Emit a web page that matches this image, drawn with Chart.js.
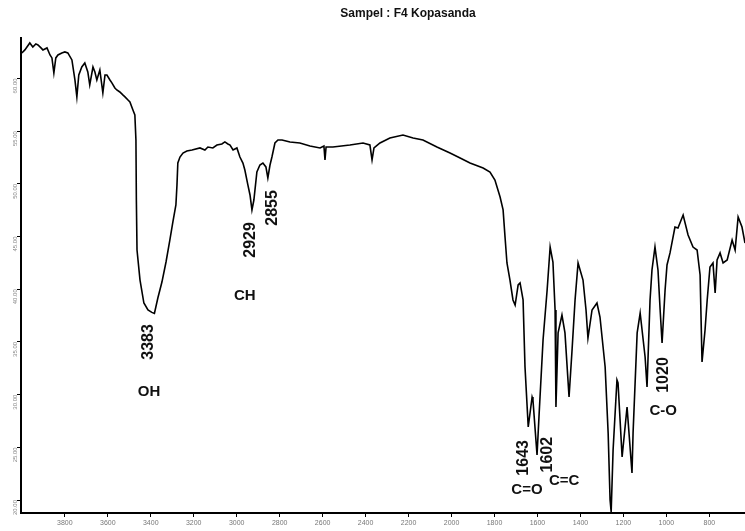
<!DOCTYPE html>
<html><head><meta charset="utf-8">
<script src="https://cdn.jsdelivr.net/npm/chart.js@4/dist/chart.umd.min.js"></script>
<style>html,body{margin:0;padding:0;background:#fff}#wrap{width:745px;height:531px}</style>
</head><body><div id="wrap"><canvas id="c" width="745" height="531"></canvas></div>
<script>
const titleText = 'Sampel : F4 Kopasanda';

const wavenumbers = [4000,3986,3963,3949,3935,3925,3911,3902,3883,3869,
3860,3851,3842,3832,3814,3800,3786,3767,3753,3744,
3735,3721,3707,3693,3684,3669,3660,3651,3637,3623,
3613,3604,3590,3581,3567,3558,3544,3530,3520,3506,
3497,3483,3474,3469,3467,3464,3450,3432,3413,3395,
3383,3367,3348,3329,3311,3297,3283,3278,3274,3264,
3250,3232,3208,3171,3148,3134,3111,3092,3069,3055,
3041,3031,3017,2999,2985,2971,2962,2948,2938,2929,
2920,2906,2892,2878,2864,2855,2845,2836,2822,2808,
2789,2752,2706,2659,2612,2594,2589,2584,2552,2473,
2412,2380,2370,2361,2333,2287,2226,2179,2133,2068,
2007,1960,1914,1853,1821,1798,1774,1760,1751,1742,
1728,1714,1704,1690,1681,1667,1658,1643,1625,1621,
1602,1593,1574,1555,1541,1528,1518,1514,1504,1486,
1472,1453,1439,1425,1411,1388,1374,1365,1346,1323,
1309,1285,1271,1262,1257,1248,1230,1225,1206,1183,
1160,1155,1136,1122,1099,1090,1076,1067,1053,1039,
1029,1020,1006,997,983,960,946,922,899,876,
857,843,834,820,810,797,783,773,764,750,
736,717,694,680,666,648,634];

const transmittance = [62.41,62.70,63.36,62.98,63.27,63.17,62.89,62.70,62.89,62.22,
61.94,60.51,61.94,62.22,62.41,62.51,62.41,61.75,59.85,58.24,
60.32,61.08,61.46,60.61,59.38,61.08,60.61,59.85,60.80,58.62,
60.32,60.32,59.85,59.57,59.09,58.90,58.71,58.43,58.24,57.95,
57.76,57.00,56.53,54.16,48.46,43.72,40.87,38.69,38.03,37.80,
37.70,39.17,40.68,42.58,44.67,46.38,47.99,49.89,51.97,52.54,
52.92,53.11,53.21,53.40,53.21,53.49,53.40,53.68,53.78,53.97,
53.78,53.68,53.21,53.40,52.54,51.97,51.31,49.89,48.94,47.52,
48.46,51.12,51.78,51.97,51.60,50.55,51.78,52.54,53.87,54.16,
54.16,53.97,53.87,53.59,53.40,53.59,52.26,53.49,53.49,53.68,
53.87,53.68,52.26,53.40,53.87,54.35,54.63,54.35,54.16,53.49,
52.92,52.45,51.97,51.50,51.12,50.36,48.75,47.52,44.95,42.49,
40.87,38.98,38.50,40.40,40.59,38.98,32.62,26.93,29.77,29.49,
24.27,27.88,35.18,39.93,44.00,42.58,38.03,28.82,35.85,37.55,
35.85,29.77,34.23,38.98,42.49,40.87,38.03,35.37,38.03,38.69,
37.36,32.62,26.36,20.00,18.86,24.74,31.39,31.10,24.08,28.82,
22.56,26.36,35.85,37.74,33.57,30.72,38.98,41.82,44.00,41.82,
38.03,34.90,39.93,42.30,43.44,45.90,45.81,47.04,45.14,44.00,
43.72,41.35,33.09,36.13,38.98,42.11,42.49,39.64,42.77,43.44,
42.49,42.77,44.67,43.72,46.85,45.90,44.38];

const xTicks = [3800,3600,3400,3200,3000,2800,2600,2400,2200,2000,1800,1600,1400,1200,1000,800];
const yTicks = [20,25,30,35,40,45,50,55,60];

// annotation texts and their anchor (wavenumber, %T); rotated = vertical text
const annoTexts    = ['3383','OH','2929','2855','CH','1643','1602','C=O','C=C','1020','C-O'];
const annoWaves    = [3410, 3408, 2934, 2831, 2962, 1663, 1555, 1649, 1476, 1015, 1015];
const annoLevels   = [35.0, 30.25, 44.67, 47.71, 39.36, 24.0, 24.3, 20.95, 21.80, 31.86, 28.44];
const annoRotated  = [true, false, true, true, false, true, true, false, false, true, false];

const points = wavenumbers.map((w, i) => ({x: w, y: transmittance[i]}));

const annoPlugin = {
  id: 'anno',
  afterDatasetsDraw(chart) {
    const {ctx, scales: {x, y}} = chart;
    ctx.save();
    ctx.fillStyle = '#111';
    ctx.textAlign = 'center';
    ctx.textBaseline = 'middle';
    annoTexts.forEach((t, i) => {
      const px = x.getPixelForValue(annoWaves[i]);
      const py = y.getPixelForValue(annoLevels[i]);
      ctx.save();
      ctx.translate(px, py);
      if (annoRotated[i]) {
        ctx.rotate(-Math.PI / 2);
        ctx.font = 'bold 16px "Liberation Sans", Arial, sans-serif';
      } else {
        ctx.font = 'bold 15px "Liberation Sans", Arial, sans-serif';
      }
      ctx.fillText(t, 0, 0);
      ctx.restore();
    });
    ctx.font = 'bold 12px "Liberation Sans", Arial, sans-serif';
    ctx.fillText(titleText, 408, 14);
    ctx.restore();
  }
};

new Chart(document.getElementById('c'), {
  type: 'line',
  data: {
    datasets: [{
      data: points,
      borderColor: '#000',
      borderWidth: 1.6,
      pointRadius: 0,
      tension: 0,
      fill: false
    }]
  },
  options: {
    responsive: false,
    animation: false,
    devicePixelRatio: 1,
    layout: {padding: {top: 38, left: 0, right: 0, bottom: 0}},
    plugins: {legend: {display: false}, tooltip: {enabled: false}, title: {display: false}},
    scales: {
      x: {
        type: 'linear',
        reverse: true,
        min: 634,
        max: 4004,
        afterBuildTicks: s => { s.ticks = xTicks.map(v => ({value: v})); },
        afterFit: s => { s.height = 18; s.paddingLeft = 0; s.paddingRight = 0; },
        grid: {display: true, drawOnChartArea: false, drawTicks: true, tickLength: 4, color: '#000', lineWidth: 1},
        border: {display: true, color: '#000', width: 2},
        ticks: {font: {size: 7, family: '"Liberation Sans", Arial'}, color: '#777', padding: 2, maxRotation: 0, minRotation: 0, autoSkip: false,
          callback: v => String(v)}
      },
      y: {
        min: 18.77,
        max: 63.83,
        afterBuildTicks: s => { s.ticks = yTicks.map(v => ({value: v})); },
        afterFit: s => { s.width = 21; s.paddingTop = 0; s.paddingBottom = 0; },
        grid: {display: true, drawOnChartArea: false, drawTicks: true, tickLength: 4, color: '#000', lineWidth: 1},
        border: {display: true, color: '#000', width: 2},
        ticks: {font: {size: 6, family: '"Liberation Sans", Arial'}, color: '#888', padding: 2, minRotation: 90, maxRotation: 90, autoSkip: false,
          callback: v => Number(v).toFixed(2)}
      }
    }
  },
  plugins: [annoPlugin]
});
</script>
</body></html>
